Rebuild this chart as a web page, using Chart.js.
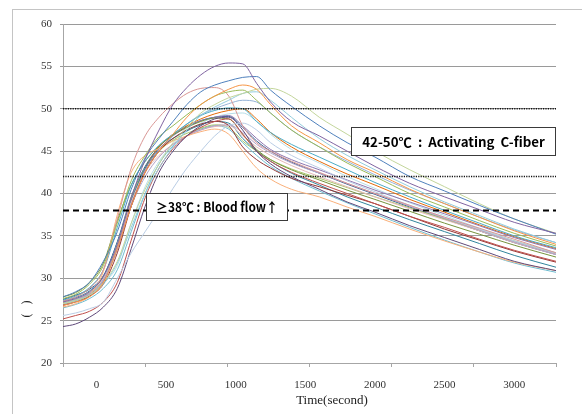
<!DOCTYPE html>
<html>
<head>
<meta charset="utf-8">
<script src="https://cdn.jsdelivr.net/npm/chart.js@4.4.1/dist/chart.umd.min.js"></script>
<style>
html,body{margin:0;padding:0;background:#fff;}
canvas{display:block;}
</style>
</head>
<body>
<canvas id="c" width="582" height="414"></canvas>
<script>
// ---- data ----
const times = [-240,-150,-50,50,150,250,350,450,550,650,750,850,950,1050,1150,1250,1400,1600,1800,2000,2250,2500,2750,3000,3300];
const tickLabels = [0,500,1000,1500,2000,2500,3000];
const tickMarks = [-240,350,940,1530,2120,2710,3300];
const yTicks = [20,25,30,35,40,45,50,55,60];

const s01 = [27.2,27.6,28.4,30.2,34.0,39.5,44.0,47.5,50.5,52.5,54.0,55.0,55.4,55.3,53.0,50.8,48.5,46.8,45.0,43.2,41.2,39.6,38.1,36.6,35.3];
const s02 = [27.8,28.4,29.5,32.0,35.5,40.5,44.2,46.5,48.5,50.5,52.0,52.8,53.3,53.7,53.8,52.2,50.3,48.0,46.0,44.3,42.0,40.3,38.6,37.0,35.2];
const s03 = [26.8,27.2,27.8,29.5,33.5,38.5,42.5,45.0,47.0,49.0,50.5,51.5,52.3,52.8,52.3,50.5,48.0,46.0,44.0,42.5,40.5,38.8,37.2,35.6,34.0];
const s04 = [27.0,27.4,28.0,29.5,32.0,36.5,40.5,43.5,46.0,47.8,49.5,50.5,51.3,51.8,52.3,52.4,51.5,49.0,47.0,45.0,42.8,40.8,38.8,37.0,35.3];
const s05 = [27.6,28.1,29.3,31.5,36.5,41.5,44.5,46.7,48.0,49.3,50.5,51.5,52.0,52.2,51.0,49.5,47.5,45.5,43.6,42.0,40.0,38.4,36.8,35.3,33.8];
const s06 = [27.0,27.3,28.0,29.3,31.8,36.0,40.0,43.0,45.5,47.5,49.2,50.2,51.0,51.8,52.0,51.0,49.0,46.5,44.5,42.8,40.8,39.0,37.4,35.8,34.2];
const s07 = [27.3,27.8,28.8,31.0,37.0,43.0,46.8,49.0,50.6,51.8,52.4,52.5,51.5,48.0,46.0,45.0,43.8,42.5,41.2,40.0,38.6,37.2,35.9,34.6,33.0];
const s08 = [25.6,25.9,26.4,27.2,30.0,33.0,35.5,38.0,40.6,43.0,45.0,46.8,48.0,48.3,47.5,46.0,44.5,43.0,41.5,40.2,38.6,37.2,35.8,34.4,33.0];
const s09 = [24.3,24.6,25.4,26.6,28.8,33.5,38.5,42.5,45.0,46.8,48.0,48.8,49.0,47.5,45.0,43.5,42.0,40.5,39.0,37.8,36.2,34.8,33.4,32.0,30.9];
const s10 = [25.2,25.6,26.1,27.2,29.5,34.5,39.5,43.0,45.3,46.8,47.8,48.5,48.8,47.0,45.0,43.8,42.5,41.2,40.0,38.8,37.3,36.0,34.6,33.3,32.0];
const s11 = [26.8,27.2,27.9,29.3,33.0,38.5,42.5,45.0,46.5,47.5,48.2,48.5,48.0,45.5,44.0,43.0,41.8,40.8,39.8,38.8,37.3,35.8,34.5,33.2,31.9];
const s12 = [26.6,27.0,28.0,30.8,37.5,42.5,44.5,45.3,46.2,46.8,47.3,47.6,47.0,45.0,43.0,41.7,40.5,39.6,38.4,37.3,35.8,34.4,33.1,31.9,30.9];
const s13 = [27.4,27.9,28.9,31.0,36.0,41.0,43.8,45.7,47.0,48.2,49.2,49.8,50.1,50.0,48.5,47.2,45.8,44.3,42.8,41.3,39.6,38.0,36.5,35.0,33.6];
const s14 = [27.0,27.4,28.2,29.8,33.5,38.5,42.0,44.3,45.8,46.8,47.5,48.0,48.1,47.2,45.8,44.8,43.6,42.4,41.2,40.0,38.5,37.1,35.7,34.3,32.8];
const s15 = [27.8,28.3,29.5,31.8,36.8,41.0,43.8,45.6,46.9,47.8,48.5,48.9,48.8,47.0,45.2,44.0,42.8,41.6,40.4,39.3,37.9,36.5,35.2,33.9,32.5];
const s16 = [27.2,27.6,28.4,30.0,34.0,39.0,42.5,44.5,45.8,46.8,47.5,47.9,48.0,46.8,45.5,44.5,43.3,42.0,40.8,39.6,38.2,36.9,35.6,34.2,32.8];
const s17 = [27.0,27.5,28.2,29.8,33.5,38.5,42.5,45.0,46.8,48.2,49.3,50.0,50.6,51.0,50.8,49.5,47.5,45.5,43.8,42.2,40.4,38.8,37.2,35.7,34.2];
const s18 = [26.9,27.3,28.1,29.7,33.5,38.8,42.8,45.2,46.8,47.8,48.6,49.0,49.2,48.0,46.5,45.2,44.0,42.8,41.6,40.4,39.0,37.6,36.2,34.8,33.4];
const s19 = [27.3,27.7,28.5,30.2,34.2,39.2,43.0,45.3,46.5,47.4,48.1,48.5,48.3,46.5,45.0,43.8,42.4,41.0,39.6,38.4,36.9,35.5,34.1,32.7,31.3];
const s20 = [27.1,27.5,28.3,29.9,34.0,39.5,43.0,45.0,46.3,47.1,47.7,48.1,47.8,46.2,45.0,44.0,42.9,41.8,40.7,39.6,38.3,37.0,35.7,34.4,33.0];
const s21 = [26.9,27.3,28.0,29.6,33.8,39.0,43.0,45.5,47.0,48.0,48.8,49.4,49.8,50.0,48.8,47.2,45.5,43.8,42.3,41.0,39.3,37.8,36.3,34.9,33.5];
const s22 = [27.5,28.0,28.7,30.3,34.3,39.6,43.2,45.5,46.9,47.9,48.6,49.0,49.1,47.8,46.2,45.0,43.7,42.4,41.1,39.9,38.4,37.0,35.6,34.2,32.8];
const s23 = [27.0,27.4,28.1,29.4,31.5,36.5,40.8,43.8,45.8,47.3,48.3,49.0,49.4,49.5,48.5,47.0,45.2,43.6,42.0,40.6,38.9,37.4,35.9,34.4,32.9];
const s24 = [26.5,26.9,27.6,28.8,31.0,35.5,40.0,43.5,45.6,46.8,47.6,48.0,47.6,46.0,44.5,43.2,41.8,40.3,38.9,37.6,36.0,34.5,33.1,31.8,30.7];

const series = [s01,s02,s03,s04,s05,s06,s07,s08,s09,s10,s11,s12,s13,s14,s15,s16,s17,s18,s19,s20,s21,s22,s23,s24];
const colors = ['#8064A2','#4F81BD','#F79646','#C3D69B','#9BBB59','#93CDDD','#D99694','#B9CDE5',
                '#604A7B','#C0504D','#943634','#FAB07A','#4BACC6','#B3A2C7','#77933C','#E6B9B8',
                '#95B3D7','#8E76B0','#31859C','#A9C76B','#E46C0A','#376092','#B7DEE8','#6FBDD1'];

// threshold lines
const thresholds = [50, 42];
const bloodFlow = 38;

// annotation boxes (data units); fill = share of the box width taken by the text
const notes = [
  {text:'\u226538\u2103 : Blood flow\u2191', x0:359, x1:1370, y0:36.9, y1:40.1, fill:0.865},
  {text:'42-50\u2103  :  Activating  C-fiber', x0:1829, x1:3293, y0:44.5, y1:47.9, fill:0.895}
];

const xMin = -240, xMax = 3300;

const datasets = series.map((s,i)=>({
  data: times.map((t,j)=>({x:t,y:s[j]})),
  borderColor: colors[i],
  borderWidth: 1,
  pointRadius: 0,
  cubicInterpolationMode: 'monotone',
  fill: false,
  order: 1
}));
thresholds.forEach(v=>datasets.push({
  data:[{x:xMin,y:v},{x:xMax,y:v}], borderColor:'#111', borderWidth:1.6, borderDash:[1.2,1.2],
  pointRadius:0, order:-1
}));
datasets.push({
  data:[{x:xMin,y:bloodFlow},{x:xMax,y:bloodFlow}], borderColor:'#000', borderWidth:2, borderDash:[6,4],
  pointRadius:0, order:-1
});

const decor = {
  id:'decor',
  beforeDraw(chart){
    const c = chart.ctx;
    c.save();
    c.fillStyle = '#fff';
    c.fillRect(0,0,chart.width,chart.height);
    c.strokeStyle = '#c4c4c4';
    c.lineWidth = 1;
    c.strokeRect(12.5, 9.5, 800, 800);
    c.restore();
  },
  afterDatasetsDraw(chart){
    const c = chart.ctx, xs = chart.scales.x, ys = chart.scales.y;
    c.save();
    notes.forEach(n=>{
      const l = Math.round(xs.getPixelForValue(n.x0))+0.5, r = Math.round(xs.getPixelForValue(n.x1))+0.5;
      const t = Math.round(ys.getPixelForValue(n.y1))+0.5, b = Math.round(ys.getPixelForValue(n.y0))+0.5;
      c.fillStyle = '#fff';
      c.fillRect(l,t,r-l,b-t);
      c.strokeStyle = '#3a3a3a';
      c.lineWidth = 1;
      c.strokeRect(l,t,r-l,b-t);
      c.fillStyle = '#000';
      c.font = 'bold 13px "Noto Sans CJK KR"';
      c.textBaseline = 'middle';
      c.textAlign = 'center';
      const w = c.measureText(n.text).width;
      const k = ((r-l)*n.fill)/w;
      c.save();
      c.translate((l+r)/2, (t+b)/2+0.5);
      c.scale(k,1);
      c.fillText(n.text, 0, 0);
      c.restore();
    });
    c.restore();
  },
  afterDraw(chart){
    const c = chart.ctx;
    c.save();
    c.fillStyle = '#222';
    c.font = '13px "Liberation Serif"';
    c.textAlign = 'center';
    c.textBaseline = 'middle';
    c.fillText('Time(second)', 332, 401);
    c.translate(27, 309);
    c.rotate(-Math.PI/2);
    c.font = '12px "Liberation Serif"';
    c.fillText('(   )', 0, 0);
    c.restore();
  }
};

new Chart(document.getElementById('c'), {
  type:'line',
  data:{datasets},
  options:{
    responsive:false,
    animation:false,
    devicePixelRatio:1,
    layout:{padding:{top:24,right:26,left:0,bottom:0}},
    plugins:{legend:{display:false},tooltip:{enabled:false}},
    scales:{
      x:{
        type:'linear', min:xMin, max:xMax,
        afterBuildTicks(scale){
          scale.ticks = [...tickMarks, ...tickLabels].sort((a,b)=>a-b).map(v=>({value:v}));
        },
        afterFit(scale){ scale.height = 51; },
        ticks:{
          autoSkip:false, maxRotation:0, padding:12,
          color:'#333', font:{family:'"Liberation Serif"', size:11},
          callback:(v)=> tickLabels.includes(v) ? String(v) : ''
        },
        grid:{
          drawOnChartArea:false, drawTicks:true, tickLength:4,
          tickColor:(ctx)=> (ctx.tick && tickLabels.includes(ctx.tick.value)) ? 'rgba(0,0,0,0)' : '#a6a6a6'
        },
        border:{display:true, color:'#a6a6a6', width:1}
      },
      y:{
        type:'linear', min:20, max:60,
        afterBuildTicks(scale){ scale.ticks = yTicks.map(v=>({value:v})); },
        afterFit(scale){ scale.width = 63; },
        ticks:{padding:8, color:'#333', font:{family:'"Liberation Serif"', size:11}},
        grid:{color:'#9a9a9a', lineWidth:1, drawTicks:true, tickLength:3},
        border:{display:true, color:'#a6a6a6', width:1}
      }
    }
  },
  plugins:[decor]
});
</script>
</body>
</html>
